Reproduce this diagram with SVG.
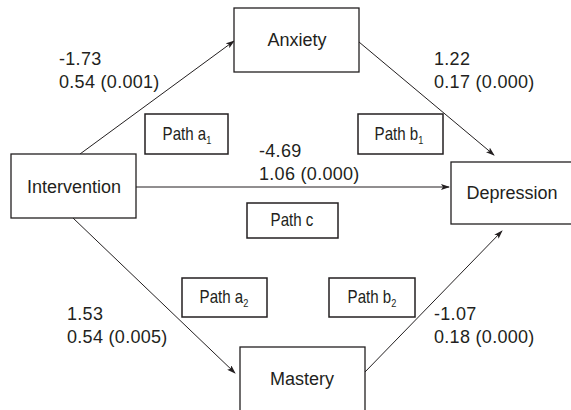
<svg xmlns="http://www.w3.org/2000/svg" width="571" height="410" viewBox="0 0 571 410">
<style>
.box{fill:#fff;stroke:#231f20;stroke-width:1.3}
.pbox{fill:#fff;stroke:#231f20;stroke-width:1.5}
.lbl{font-family:"Liberation Sans",Arial,sans-serif;font-size:18px;fill:#231f20;text-anchor:middle}
.num{font-family:"Liberation Sans",Arial,sans-serif;font-size:18px;letter-spacing:0.3px;fill:#231f20}
.pth{font-family:"Liberation Sans",Arial,sans-serif;font-size:18px;fill:#231f20;text-anchor:middle}
.sub{font-size:11px}
.ln{stroke:#231f20;stroke-width:1;fill:none;marker-end:url(#ah)}
</style>
<defs>
<marker id="ah" markerWidth="9" markerHeight="6" refX="8" refY="3" orient="auto" markerUnits="userSpaceOnUse">
<path d="M0,0 L9,3 L0,6 L2,3 z" fill="#231f20"/>
</marker>
</defs>
<rect width="571" height="410" fill="#fff"/>
<g id="connectors">
<line class="ln" x1="80" y1="154" x2="234" y2="41"/>
<line class="ln" x1="136" y1="187" x2="449" y2="187"/>
<line class="ln" x1="359" y1="42" x2="494" y2="155"/>
<line class="ln" x1="73" y1="218" x2="235" y2="373"/>
<line class="ln" x1="365" y1="372" x2="502" y2="231"/>
</g>
<g id="anxiety">
<rect class="box" x="234" y="8" width="125" height="64"/>
<text class="lbl" x="297" y="46">Anxiety</text>
</g>
<g id="intervention">
<rect class="box" x="11" y="154" width="125" height="64"/>
<text class="lbl" x="74" y="193">Intervention</text>
</g>
<g id="depression">
<rect class="box" x="451" y="162" width="125" height="62"/>
<text class="lbl" x="512" y="199">Depression</text>
</g>
<g id="mastery">
<rect class="box" x="240" y="347" width="125" height="64"/>
<text class="lbl" x="302" y="385">Mastery</text>
</g>
<g id="path-a1">
<rect class="pbox" x="145" y="114" width="83" height="40"/>
<text class="pth" transform="translate(187,140) scale(0.84,1)">Path a<tspan class="sub" dy="4">1</tspan></text>
</g>
<g id="path-b1">
<rect class="pbox" x="358" y="114" width="85" height="40"/>
<text class="pth" transform="translate(399,140) scale(0.84,1)">Path b<tspan class="sub" dy="4">1</tspan></text>
</g>
<g id="path-c">
<rect class="pbox" x="247" y="203" width="91" height="35"/>
<text class="pth" transform="translate(292,226) scale(0.84,1)">Path c</text>
</g>
<g id="path-a2">
<rect class="pbox" x="182" y="278" width="85" height="39"/>
<text class="pth" transform="translate(224,303) scale(0.84,1)">Path a<tspan class="sub" dy="4">2</tspan></text>
</g>
<g id="path-b2">
<rect class="pbox" x="329" y="278" width="86" height="39"/>
<text class="pth" transform="translate(372,303) scale(0.84,1)">Path b<tspan class="sub" dy="4">2</tspan></text>
</g>
<g id="coefficients">
<text class="num" x="59" y="65">-1.73</text>
<text class="num" x="59" y="88">0.54 (0.001)</text>
<text class="num" x="434" y="65">1.22</text>
<text class="num" x="434" y="88">0.17 (0.000)</text>
<text class="num" x="259" y="157">-4.69</text>
<text class="num" x="259" y="180">1.06 (0.000)</text>
<text class="num" x="67" y="320">1.53</text>
<text class="num" x="67" y="343">0.54 (0.005)</text>
<text class="num" x="434" y="320">-1.07</text>
<text class="num" x="434" y="343">0.18 (0.000)</text>
</g>
</svg>
